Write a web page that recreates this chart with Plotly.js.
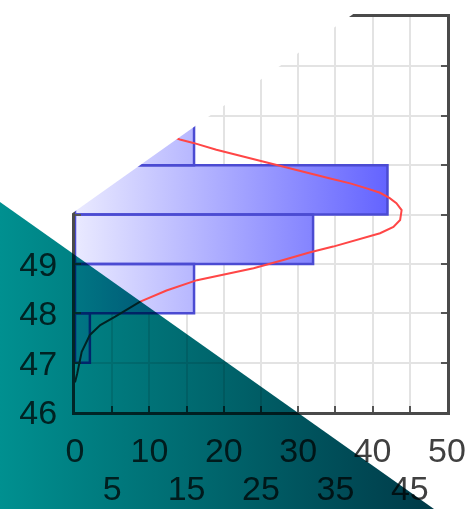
<!DOCTYPE html>
<html><head><meta charset="utf-8">
<script src="https://cdn.plot.ly/plotly-3.0.1.min.js"></script>
<style>
html,body{margin:0;padding:0;background:#fff;}
#chart{width:472px;height:509px;}
.subplot.x3y3{mix-blend-mode:multiply;}
</style></head><body><div id="chart"></div>
<script>
// ---- data ----
const binStarts = [47, 48, 49, 50, 51];
const binEnds   = [48, 49, 50, 51, 52];
const counts    = [2, 16, 32, 42, 16];

const curveValue = [46.60, 46.78, 47.22, 47.56, 47.76, 47.93, 48.23, 48.46, 48.67, 48.80, 48.91, 49.08, 49.23, 49.35, 49.48, 49.62, 49.75, 49.89, 50.09, 50.23, 50.33, 50.44, 50.53, 50.63, 50.73, 50.83, 50.94, 51.07, 51.18, 51.31, 51.45, 51.52, 51.75, 52.05, 52.45, 52.90, 53.50];
const curveCount = [0.0, 0.3, 0.9, 2.0, 3.4, 5.4, 8.7, 12.3, 16.4, 20.4, 24.0, 28.0, 31.5, 34.7, 37.9, 41.0, 42.8, 43.7, 43.9, 43.2, 42.3, 41.0, 39.2, 37.0, 34.3, 31.6, 28.9, 25.3, 22.2, 19.0, 15.9, 14.1, 10.0, 5.5, 2.3, 0.8, 0.1];

const xTickVals  = [0, 5, 10, 15, 20, 25, 30, 35, 40, 45, 50];
const xTickRow1  = ['0', '', '10', '', '20', '', '30', '', '40', '', '50'];
const xTickRow2V = [5, 15, 25, 35, 45];
const xTickRow2  = ['5', '15', '25', '35', '45'];
const yTickVals  = [46, 47, 48, 49, 50, 51, 52, 53, 54];
const yTickText  = ['46', '47', '48', '49', '50', '51', '52', '53', '54'];

// ---- page geometry / decoration (not data) ----
const W = 472, H = 509;
const plotL = 75, plotR = 447, plotT = 17, plotB = 412;
const whiteTri = {x: [0, 373, 0, 0], y: [0, 0, 264.5, 0]};
const tealTri  = {x: [0, 0, 434, 0], y: [202, 509, 509, 202]};

// build bar rectangles from the data arrays
const barX = [], barY = [];
for (let i = 0; i < counts.length; i++) {
  barX.push(0, counts[i], counts[i], 0, 0, null);
  barY.push(binStarts[i], binStarts[i], binEnds[i], binEnds[i], binStarts[i], null);
}

const traces = [
  {type: 'scatter', mode: 'lines', x: barX, y: barY, xaxis: 'x', yaxis: 'y',
   fill: 'toself', connectgaps: false,
   fillgradient: {type: 'horizontal', start: 0, stop: 50,
     colorscale: [[0, 'rgb(234,234,255)'], [1, 'rgb(74,74,255)']]},
   line: {color: '#4b4bd2', width: 2.5}, hoverinfo: 'skip'},
  {type: 'scatter', mode: 'lines', x: curveCount, y: curveValue, xaxis: 'x', yaxis: 'y',
   line: {color: '#ff4646', width: 2}, hoverinfo: 'skip'},
  {type: 'scatter', mode: 'lines', x: [null], y: [null], xaxis: 'x4', yaxis: 'y', hoverinfo: 'skip'},
  {type: 'scatter', mode: 'lines', x: whiteTri.x, y: whiteTri.y, xaxis: 'x2', yaxis: 'y2',
   fill: 'toself', fillcolor: '#ffffff', line: {width: 0}, hoverinfo: 'skip'},
  {type: 'scatter', mode: 'lines', x: tealTri.x, y: tealTri.y, xaxis: 'x3', yaxis: 'y3',
   fill: 'toself', line: {width: 0}, hoverinfo: 'skip',
   fillgradient: {type: 'horizontal', start: 0, stop: 434,
     colorscale: [[0, '#009090'], [1, '#003a48']]}}
];

const axisCommon = {
  showline: true, linewidth: 3, linecolor: '#4a4a4a',
  ticks: 'inside', ticklen: 6, tickwidth: 2, tickcolor: '#555555',
  showgrid: true, gridcolor: '#e3e3e3', gridwidth: 2, zeroline: false, fixedrange: true
};

const layout = {
  width: W, height: H, margin: {l: 0, r: 0, t: 0, b: 0, pad: 0},
  paper_bgcolor: '#ffffff', plot_bgcolor: 'rgba(0,0,0,0)', showlegend: false,
  font: {family: '"Liberation Sans", Arial, sans-serif', size: 34, color: '#404040'},
  xaxis: Object.assign({}, axisCommon, {
    domain: [plotL / W, plotR / W], range: [0, 50], anchor: 'y', mirror: true,
    tickmode: 'array', tickvals: xTickVals, ticktext: xTickRow1, ticklabelstandoff: 6
  }),
  xaxis4: {overlaying: 'x', anchor: 'y', side: 'bottom', range: [0, 50],
    tickmode: 'array', tickvals: xTickRow2V, ticktext: xTickRow2,
    showline: false, showgrid: false, zeroline: false, ticks: '', ticklabelstandoff: 53, fixedrange: true},
  yaxis: Object.assign({}, axisCommon, {
    domain: [(H - plotB) / H, (H - plotT) / H], range: [46, 54], anchor: 'x', mirror: 'ticks',
    tickmode: 'array', tickvals: yTickVals, ticktext: yTickText, ticklabelstandoff: 8
  }),
  xaxis2: {domain: [0, 1], range: [0, W], visible: false, anchor: 'y2', fixedrange: true},
  yaxis2: {domain: [0, 1], range: [H, 0], visible: false, anchor: 'x2', fixedrange: true},
  xaxis3: {domain: [0, 1], range: [0, W], visible: false, anchor: 'y3', fixedrange: true},
  yaxis3: {domain: [0, 1], range: [H, 0], visible: false, anchor: 'x3', fixedrange: true}
};

Plotly.newPlot('chart', traces, layout, {displayModeBar: false, staticPlot: true});
</script></body></html>
